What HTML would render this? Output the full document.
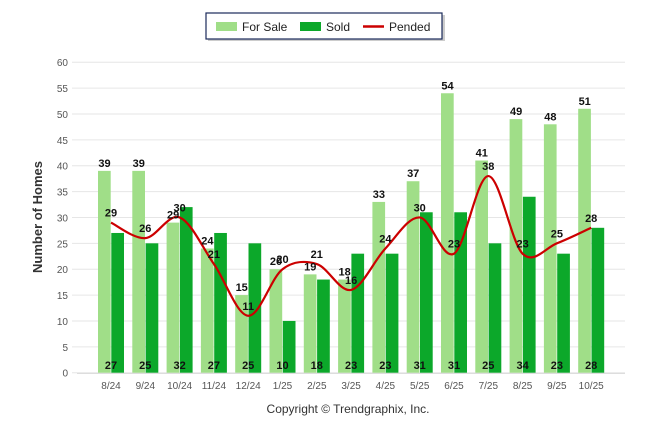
<!DOCTYPE html>
<html><head><meta charset="utf-8"><style>
body{margin:0;background:#fff;width:646px;height:434px;overflow:hidden}
svg text{font-family:"Liberation Sans",Arial,sans-serif}
</style></head><body>
<svg id="c" width="646" height="434">
<g>
<rect x="208" y="15" width="237" height="26" fill="#999" opacity="0.5"/>
<rect x="206" y="13" width="236" height="26" fill="#fff" stroke="#1a2a5a" stroke-width="1.2"/>
<rect x="216" y="22" width="21" height="9" fill="#a0de88"/>
<text x="242" y="31" font-size="12" fill="#222">For Sale</text>
<rect x="300" y="22" width="21" height="9" fill="#0ca82a"/>
<text x="326" y="31" font-size="12" fill="#222">Sold</text>
<line x1="363" y1="26.5" x2="384" y2="26.5" stroke="#c00" stroke-width="2.5"/>
<text x="389" y="31" font-size="12" fill="#222">Pended</text>
</g>
<text transform="translate(42,217) rotate(-90)" text-anchor="middle" font-size="13" font-weight="bold" fill="#333">Number of Homes</text>
<text x="348" y="413" text-anchor="middle" font-size="12" fill="#333">Copyright © Trendgraphix, Inc.</text>
<g id="grid"></g><g id="bars"></g><g id="line"></g><g id="labels"></g>
</svg>
<script>
const categories=["8/24","9/24","10/24","11/24","12/24","1/25","2/25","3/25","4/25","5/25","6/25","7/25","8/25","9/25","10/25"];
const forSale=[39,39,29,24,15,20,19,18,33,37,54,41,49,48,51];
const sold=[27,25,32,27,25,10,18,23,23,31,31,25,34,23,28];
const pended=[29,26,30,21,11,20,21,16,24,30,23,38,23,25,28];
const yTicks=[0,5,10,15,20,25,30,35,40,45,50,55,60];
const NS="http://www.w3.org/2000/svg";
const y=v=>372.7-v*5.175;
const x=i=>111+i*34.3;
function mk(p,t,a){const e=document.createElementNS(NS,t);for(const k in a)e.setAttribute(k,a[k]);p.appendChild(e);return e;}
const G=document.getElementById('grid'),B=document.getElementById('bars'),L=document.getElementById('line'),T=document.getElementById('labels');
yTicks.forEach(v=>{
 const l=mk(G,'line',{x1:72,x2:625,y1:y(v),y2:y(v),stroke:'#e6e6e6','stroke-width':1});
 
 
 const t=mk(G,'text',{x:68,y:y(v)+4,'text-anchor':'end','font-size':10,fill:'#555'});t.textContent=v;
 
 
});
mk(G,'line',{x1:77,x2:625,y1:373.5,y2:373.5,stroke:'#ddd'});
categories.forEach((c,i)=>{
 const t=mk(G,'text',{x:x(i),y:389,'text-anchor':'middle','font-size':10,fill:'#555'});t.textContent=c;
 
 
 const a=mk(B,'rect',{x:x(i)-13,y:y(forSale[i]),width:12.7,height:y(0)-y(forSale[i]),fill:'#a0de88'});
 
 
 const b=mk(B,'rect',{x:x(i)+0.3,y:y(sold[i]),width:12.7,height:y(0)-y(sold[i]),fill:'#0ca82a'});
 
 
 const t1=mk(T,'text',{x:x(i)-6.5,y:y(forSale[i])-4,'text-anchor':'middle','font-size':11,'font-weight':'bold',fill:'#111'});t1.textContent=forSale[i];
 
 
 const t2=mk(T,'text',{x:x(i),y:369,'text-anchor':'middle','font-size':11,'font-weight':'bold',fill:'#111'});t2.textContent=sold[i];
 
 
 const t3=mk(T,'text',{x:x(i),y:y(pended[i])-6,'text-anchor':'middle','font-size':11,'font-weight':'bold',fill:'#111'});t3.textContent=pended[i];
 
 
});
const P=pended.map((v,i)=>[x(i),y(v)]);
let d='M'+P[0][0]+','+P[0][1];
for(let i=0;i<P.length-1;i++){
 const p0=P[Math.max(0,i-1)],p1=P[i],p2=P[i+1],p3=P[Math.min(P.length-1,i+2)];
 const k=1/6;
 d+=` C${p1[0]+(p2[0]-p0[0])*k},${p1[1]+(p2[1]-p0[1])*k} ${p2[0]-(p3[0]-p1[0])*k},${p2[1]-(p3[1]-p1[1])*k} ${p2[0]},${p2[1]}`;
}
const pl=mk(L,'path',{d:d,fill:'none',stroke:'#c00','stroke-width':2.2});


</script>
</body></html>
